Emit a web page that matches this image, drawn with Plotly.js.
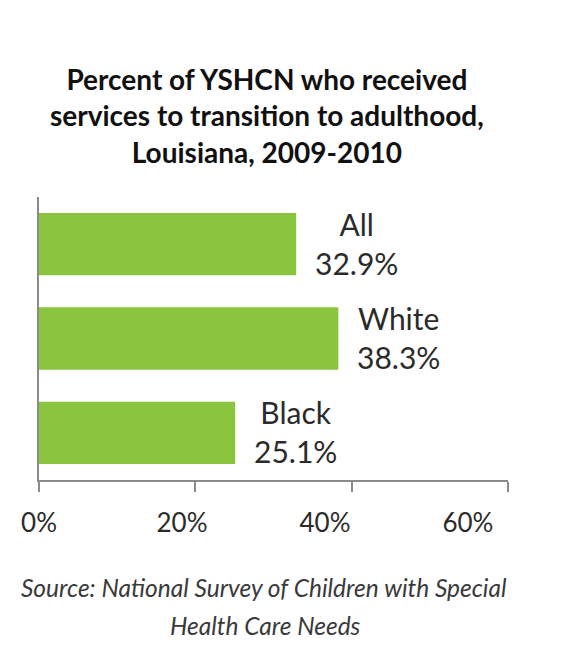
<!DOCTYPE html>
<html>
<head>
<meta charset="utf-8">
<script src="https://cdn.plot.ly/plotly-3.0.1.min.js"></script>
<style>html,body{margin:0;padding:0;background:#fff;}#chart{width:571px;height:651px;}</style>
</head>
<body>
<div id="chart"></div>
<script>
const categories = ["All", "White", "Black"];
const values = [32.9, 38.3, 25.1];
const tickValues = [0, 20, 40, 60];
const tickLabels = ["0%", "20%", "40%", "60%"];
const titleText = "Percent of YSHCN who received<br>services to transition to adulthood,<br>Louisiana, 2009-2010";
const sourceLines = ["Source: National Survey of Children with Special", "Health Care Needs"];

const FONT = "Lato, 'Open Sans', sans-serif";
const GREEN = "#8BC53F";

const trace = {
  type: "bar",
  orientation: "h",
  y: categories,
  x: values,
  marker: {color: GREEN},
  hoverinfo: "skip"
};

const labelAnnotations = categories.map((c, i) => ({
  xref: "x", yref: "y",
  x: values[i], y: c,
  xanchor: "left", yanchor: "middle",
  xshift: 17, yshift: 1,
  align: "center",
  showarrow: false,
  text: c + "<br>" + values[i].toFixed(1) + "%",
  font: {family: FONT, size: 30, color: "#2b2b2b"}
}));

const sourceAnnotations = sourceLines.map((s, i) => ({
  xref: "paper", yref: "paper", x: (i === 0 ? 0.479 : 0.483), y: 0,
  yshift: -107 - 38 * i,
  xanchor: "center", yanchor: "middle", showarrow: false,
  text: "<i>" + s + "</i>",
  font: {family: FONT, size: 24.5, color: "#3a3a3a"}
}));

const layout = {
  width: 571, height: 651,
  paper_bgcolor: "#fff", plot_bgcolor: "#fff",
  margin: {l: 39, r: 63, t: 197, b: 171},
  showlegend: false,
  bargap: 0.34,
  xaxis: {
    range: [0, 60],
    tickvals: tickValues,
    showticklabels: false,
    ticks: "outside", ticklen: 10, tickwidth: 2, tickcolor: "#8a8a8a",
    showline: true, linecolor: "#8a8a8a", linewidth: 2,
    showgrid: false, zeroline: false, fixedrange: true
  },
  xaxis2: {
    overlaying: "x",
    side: "bottom",
    anchor: "y",
    range: [0, 65.6],
    tickvals: tickValues,
    ticktext: tickLabels,
    ticks: "", showline: false, showgrid: false, zeroline: false,
    ticklabelstandoff: 25,
    tickfont: {family: FONT, size: 26, color: "#2b2b2b"},
    fixedrange: true
  },
  yaxis: {
    categoryorder: "array",
    categoryarray: categories.slice().reverse(),
    showticklabels: false,
    ticks: "",
    showline: true, linecolor: "#8a8a8a", linewidth: 2,
    showgrid: false, zeroline: false, fixedrange: true
  },
  annotations: [
    {
      xref: "paper", yref: "paper", x: 0.486, y: 1, yshift: 26,
      xanchor: "center", yanchor: "bottom", showarrow: false,
      text: "<b>" + titleText + "</b>",
      font: {family: FONT, size: 28, color: "#111"}
    }
  ].concat(sourceAnnotations, labelAnnotations)
};

const dummy = {type: "scatter", x: [0], y: [categories[0]], xaxis: "x2", mode: "markers", marker: {opacity: 0}, hoverinfo: "skip"};

Plotly.newPlot("chart", [trace, dummy], layout, {displayModeBar: false, staticPlot: true});
</script>
</body>
</html>
